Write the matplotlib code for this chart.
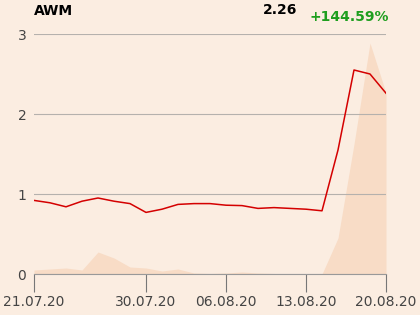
import numpy as np
import matplotlib
matplotlib.use("Agg")
import matplotlib.pyplot as plt

# dati
dates = ["21.07.20", "22.07.20", "23.07.20", "24.07.20", "27.07.20", "28.07.20",
         "29.07.20", "30.07.20", "31.07.20", "03.08.20", "04.08.20", "05.08.20",
         "06.08.20", "07.08.20", "10.08.20", "11.08.20", "12.08.20", "13.08.20",
         "14.08.20", "17.08.20", "18.08.20", "19.08.20", "20.08.20"]
price = [0.92, 0.89, 0.84, 0.91, 0.95, 0.91, 0.88, 0.77, 0.81, 0.87, 0.88, 0.88,
         0.86, 0.855, 0.82, 0.83, 0.82, 0.81, 0.79, 1.55, 2.55, 2.50, 2.26]
volume = [4, 5, 6, 4, 22, 16, 7, 6, 3, 5, 1, 0.5, 1, 2, 1, 0.5, 0.3, 0.3, 0,
          36, 130, 231, 181]
tick_labels = ["21.07.20", "30.07.20", "06.08.20", "13.08.20", "20.08.20"]
name = "AWM"
last = "2.26"
change = "+144.59%"

bg = "#fbede1"
x = np.arange(len(dates))

fig = plt.figure(figsize=(4.2, 3.15), dpi=100, facecolor=bg)
ax = fig.add_axes([34 / 420, 41 / 315, 352 / 420, 240 / 315])
ax.set_facecolor(bg)

# volume come area sullo sfondo
ax2 = ax.twinx()
ax2.fill_between(x, volume, 0, color="#f8dcc6", lw=0)
ax2.set_ylim(0, 240)
ax2.axis("off")
ax.set_zorder(ax2.get_zorder() + 1)
ax.patch.set_visible(False)
ax2.patch.set_facecolor(bg)

ax.plot(x, price, color="#d40000", lw=1.1)

ax.set_xlim(0, len(dates) - 1)
ax.set_ylim(0, 3)
ax.set_yticks([0, 1, 2, 3])
ax.grid(axis="y", color="#b5b1ad", lw=0.8)
ax.set_xticks([dates.index(d) for d in tick_labels])
ax.set_xticklabels(tick_labels)
ax.tick_params(axis="x", length=13, color="#777777", labelsize=10, labelcolor="#444444", pad=2)
ax.tick_params(axis="y", length=0, labelsize=10, labelcolor="#444444", pad=5.5)
for s in ["top", "right", "left"]:
    ax.spines[s].set_visible(False)
ax.spines["bottom"].set_color("#999999")

fig.text(34 / 420, 1 - 11 / 315, name, fontsize=10, fontweight="bold", va="center", ha="left")
fig.text(297 / 420, 1 - 10 / 315, last, fontsize=10, fontweight="bold", va="center", ha="right")
fig.text(389 / 420, 1 - 17 / 315, change, fontsize=10, fontweight="bold", color="#1e9e1e",
         va="center", ha="right")

fig.savefig("out.png", dpi=100, facecolor=bg)
